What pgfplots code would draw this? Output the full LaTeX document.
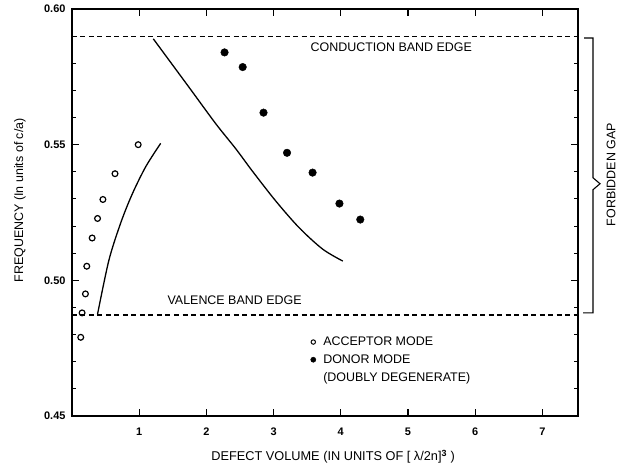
\documentclass[border=0pt]{standalone}
\usepackage{fontspec}
\setmainfont{Liberation Sans}
\usepackage{pgfplots}
\pgfplotsset{compat=1.18}
\begin{document}
\begin{tikzpicture}
\path[use as bounding box] (-72bp,-52bp) rectangle (554bp,416bp);
\begin{axis}[
  at={(0,0)}, anchor=south west,
  scale only axis, width=506bp, height=407bp,
  xmin=0, xmax=7.53, ymin=0.45, ymax=0.60,
  clip=false,
  axis line style={line width=1.5bp},
  tick style={black, line width=1.1bp},
  tick align=inside,
  major tick length=7bp, minor tick length=4bp,
  xtick={1,2,3,4,5,6,7},
  ytick={0.45,0.50,0.55,0.60},
  minor y tick num=4,
  yticklabel style={xshift=-3bp, /pgf/number format/.cd, fixed, fixed zerofill, precision=2},
  /pgf/number format/assume math mode=true,
  tick label style={font=\fontsize{11}{12}\selectfont\bfseries},
  xticklabel style={yshift=-8bp},
  legend style={draw=none, fill=none, at={(axis cs:3.48,0.4805)}, anchor=north west,
    font=\fontsize{12.5}{13}\selectfont, row sep=4.5bp,
    nodes={inner sep=1.5bp}},
  legend cell align=left,
  legend image code/.code={\path[draw=none, fill=none] (-0.05cm,0cm) -- (0.40cm,0cm);
    \draw plot[only marks] coordinates {(0.1cm,0cm)};},
]
% band edges
\addplot[black, line width=1.6bp, dash pattern=on 5bp off 3.5bp, forget plot] coordinates {(0,0.5899) (7.53,0.5899)};
\addplot[black, line width=1.6bp, dash pattern=on 5bp off 3.5bp, forget plot] coordinates {(0,0.4872) (7.53,0.4872)};
% theory curves
\addplot[black, line width=1.3bp, smooth, forget plot] coordinates {
 (0.38,0.4875) (0.55,0.5075) (0.73,0.5215) (0.90,0.5320) (1.10,0.5420) (1.32,0.5505)};
\addplot[black, line width=1.3bp, smooth, forget plot] coordinates {
 (1.21,0.5890) (1.74,0.5712) (2.14,0.5577) (2.44,0.5484) (2.68,0.5404) (3.03,0.5293) (3.38,0.5194) (3.73,0.5115) (4.03,0.5071)};
% acceptor
\addplot[only marks, mark=o, mark size=2.9bp, line width=1.2bp, black,
  legend image post style={mark size=2.2bp, line width=1bp}] coordinates {
 (0.13,0.4790) (0.15,0.4880) (0.20,0.4950) (0.22,0.5052) (0.30,0.5156) (0.38,0.5228) (0.46,0.5298) (0.64,0.5393) (0.985,0.5500)};
\addlegendentry{ACCEPTOR MODE}
% donor
\addplot[only marks, mark=*, mark size=3.8bp, black,
  legend image post style={mark size=2.6bp}] coordinates {
 (2.27,0.5840) (2.54,0.5786) (2.85,0.5618) (3.20,0.5470) (3.58,0.5397) (3.98,0.5283) (4.29,0.5224)};
\addlegendentry{DONOR MODE}
\addlegendimage{empty legend}
\addlegendentry{(DOUBLY DEGENERATE)}
% labels
\node[anchor=west, font=\fontsize{12.5}{14}\selectfont] at (axis cs:3.50,0.5858) {CONDUCTION BAND EDGE};
\node[anchor=west, font=\fontsize{12.5}{14}\selectfont] at (axis cs:1.37,0.4925) {VALENCE BAND EDGE};
\node[font=\fontsize{12.8}{14}\selectfont] at ([yshift=-41bp]rel axis cs:0.516,0) {DEFECT VOLUME (IN UNITS OF [ λ/2n]$^{\mathbf{3}}$ )};
\node[rotate=90, font=\fontsize{12.5}{14}\selectfont] at ([xshift=-52bp]rel axis cs:0,0.53) {FREQUENCY (In units of c/a)};
% forbidden gap brace
\draw[line width=1.1bp] ([xshift=6bp]axis cs:7.53,0.5893) -- ([xshift=15bp]axis cs:7.53,0.5893)
  -- ([xshift=15bp]axis cs:7.53,0.5378) -- ([xshift=22bp]axis cs:7.53,0.5356)
  -- ([xshift=15bp]axis cs:7.53,0.5334) -- ([xshift=15bp]axis cs:7.53,0.4880)
  -- ([xshift=5bp]axis cs:7.53,0.4880);
\node[rotate=90, font=\fontsize{12.5}{14}\selectfont] at ([xshift=33bp]axis cs:7.53,0.5390) {FORBIDDEN GAP};
\end{axis}
\end{tikzpicture}
\end{document}
